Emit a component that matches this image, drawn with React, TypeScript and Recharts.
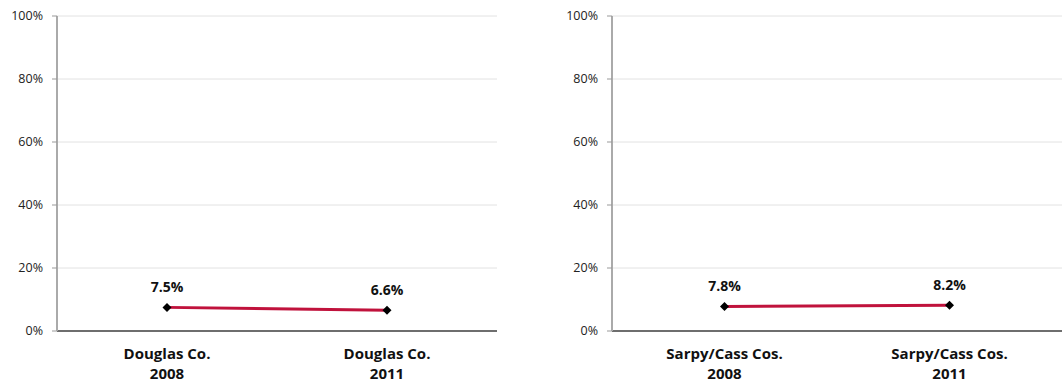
import React from "react";
import { LineChart, Line, XAxis, YAxis, CartesianGrid, LabelList } from "recharts";

// ─── data ─────────────────────────────────────────
const douglasCats = ["Douglas Co.|2008", "Douglas Co.|2011"];
const douglasVals = [7.5, 6.6];
const sarpyCats = ["Sarpy/Cass Cos.|2008", "Sarpy/Cass Cos.|2011"];
const sarpyVals = [7.8, 8.2];
const yTicks = [0, 20, 40, 60, 80, 100];

const FONT = "'Open Sans', 'Noto Sans', sans-serif";
const LINE = "#C0123C";

const toRows = (cats: string[], vals: number[]) => cats.map((c, i) => ({ cat: c, value: vals[i] }));

const CatTick = ({ x, y, payload }: any) => {
  const [a, b] = String(payload.value).split("|");
  return (
    <text x={x} y={y} textAnchor="middle" fontFamily={FONT} fontSize={15} fontWeight={700} fill="#111">
      <tspan x={x} dy={20}>{a}</tspan>
      <tspan x={x} dy={20}>{b}</tspan>
    </text>
  );
};

const Diamond = ({ cx, cy }: any) => (
  <path d={`M${cx},${cy - 4.5} L${cx + 4.5},${cy} L${cx},${cy + 4.5} L${cx - 4.5},${cy} Z`} fill="#000" />
);

function Panel({ cats, vals, yWidth, right }: { cats: string[]; vals: number[]; yWidth: number; right: number }) {
  return (
    <LineChart width={531} height={383} data={toRows(cats, vals)} margin={{ top: 16, right, left: 0, bottom: 0 }}>
      <CartesianGrid vertical={false} stroke="#e2e2e2" />
      <XAxis
        dataKey="cat"
        scale="band"
        tick={<CatTick />}
        tickLine={false}
        axisLine={{ stroke: "#6e6e6e", strokeWidth: 2 }}
        height={52}
        interval={0}
      />
      <YAxis
        domain={[0, 100]}
        ticks={yTicks}
        width={yWidth}
        tickFormatter={(v) => `${v}%`}
        tick={{ fontSize: 12.5, fontFamily: FONT, fill: "#222" }}
        tickSize={5}
        tickMargin={9}
        tickLine={{ stroke: "#999" }}
        axisLine={{ stroke: "#aaa", strokeWidth: 2 }}
      />
      <Line
        dataKey="value"
        stroke={LINE}
        strokeWidth={3}
        dot={<Diamond />}
        isAnimationActive={false}
      >
        <LabelList
          dataKey="value"
          position="top"
          offset={15}
          formatter={(v: any) => `${Number(v).toFixed(1)}%`}
          style={{ fontFamily: FONT, fontSize: 14, fontWeight: 700, fill: "#111" }}
        />
      </Line>
    </LineChart>
  );
}

export default function App() {
  return (
    <div style={{ position: "absolute", left: 0, top: 0, width: 1062, height: 383, background: "#fff", overflow: "hidden" }}>
      <div style={{ position: "absolute", left: 0, top: 0 }}>
        <Panel cats={douglasCats} vals={douglasVals} yWidth={57} right={34} />
      </div>
      <div style={{ position: "absolute", left: 531, top: 0 }}>
        <Panel cats={sarpyCats} vals={sarpyVals} yWidth={81} right={0} />
      </div>
    </div>
  );
}
